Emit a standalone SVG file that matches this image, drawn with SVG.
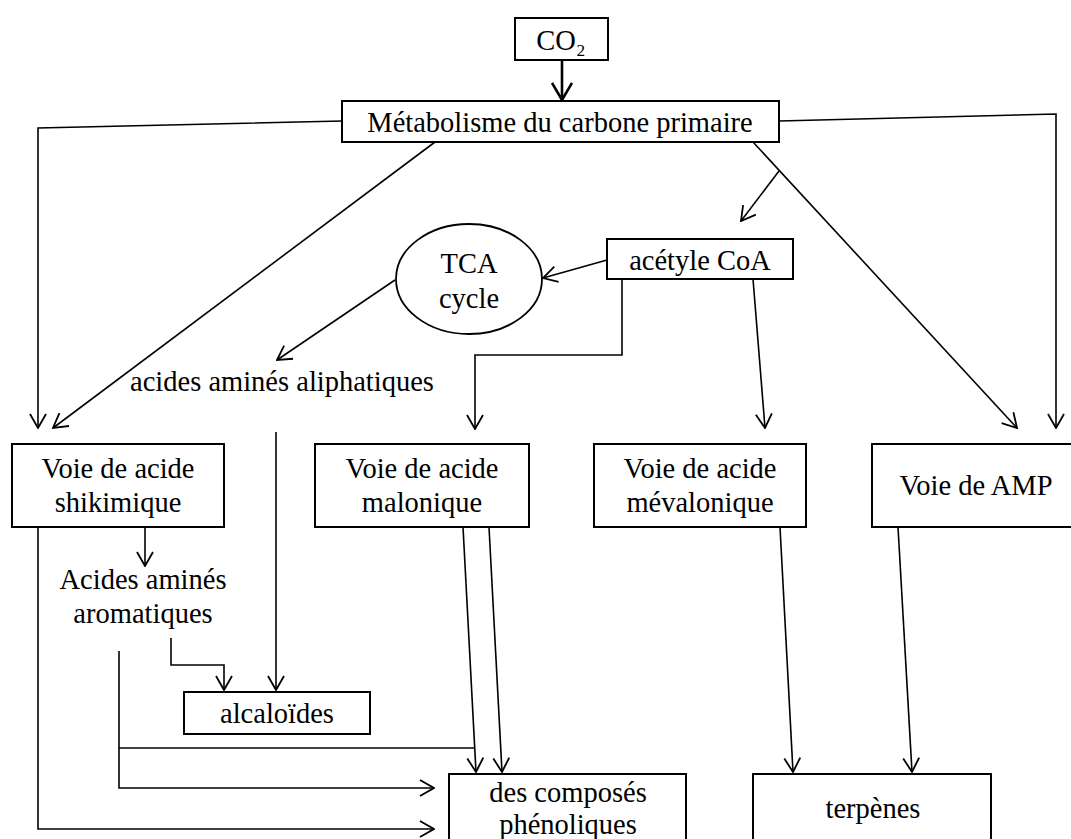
<svg xmlns="http://www.w3.org/2000/svg" width="1071" height="839" viewBox="0 0 1071 839">
<style>
.box{fill:#fff;stroke:#000;stroke-width:2}
.t{font-family:'Liberation Serif','Times New Roman','DejaVu Serif',serif;font-size:28.5px;fill:#000;text-anchor:middle}
.c{fill:none;stroke:#000;stroke-width:1.6}
.a{marker-end:url(#arr)}
</style>
<defs>
<marker id="arr" viewBox="0 0 16 18" refX="15" refY="9" markerWidth="16" markerHeight="18" orient="auto" markerUnits="userSpaceOnUse">
<path d="M1,1 L15,9 L1,17" fill="none" stroke="#000" stroke-width="1.8"/>
</marker>
<marker id="arrB" viewBox="0 0 20 22" refX="18" refY="11" markerWidth="20" markerHeight="22" orient="auto" markerUnits="userSpaceOnUse">
<path d="M1,1 L18,11 L1,21" fill="none" stroke="#000" stroke-width="2.6"/>
</marker>
</defs>
<rect width="1071" height="839" fill="#fff"/>
<g id="connectors">
<line x1="562" y1="60" x2="562" y2="100" stroke="#000" stroke-width="2.6" marker-end="url(#arrB)"/>
<polyline class="c a" points="342,121 38,128 38,428"/>
<line class="c a" x1="435" y1="142" x2="53" y2="428"/>
<polyline class="c a" points="779,121 1056,114 1056,428"/>
<line class="c a" x1="753" y1="142" x2="1017" y2="428"/>
<line class="c a" x1="779" y1="171" x2="741" y2="221"/>
<line class="c a" x1="607" y1="260" x2="543" y2="278"/>
<line class="c a" x1="395" y1="280" x2="277" y2="360"/>
<polyline class="c a" points="622,279 622,355 475,355 475,429"/>
<line class="c a" x1="753" y1="279" x2="765" y2="428"/>
<line class="c a" x1="145" y1="527" x2="145" y2="566"/>
<polyline class="c a" points="171,638 171,665 224,665 224,690"/>
<line class="c a" x1="276" y1="432" x2="276" y2="690"/>
<polyline class="c a" points="38,527 38,829 434,829"/>
<polyline class="c a" points="119,651 119,788 434,788"/>
<line class="c" x1="119" y1="748" x2="474" y2="748"/>
<line class="c a" x1="463" y1="527" x2="476" y2="772"/>
<line class="c a" x1="489" y1="527" x2="502" y2="772"/>
<line class="c a" x1="780" y1="527" x2="793" y2="772"/>
<line class="c a" x1="898" y1="527" x2="912" y2="772"/>
</g>
<g id="co2"><rect class="box" x="515" y="18" width="93" height="42" stroke-width="2.5"/><text class="t" x="561" y="50">CO₂</text></g>
<g id="metabolisme"><rect class="box" x="342" y="101" width="437" height="41"/><text class="t" x="560" y="132">Métabolisme du carbone primaire</text></g>
<g id="acetyl"><rect class="box" x="607" y="239" width="186" height="40"/><text class="t" x="700" y="270">acétyle CoA</text></g>
<g id="tca"><ellipse cx="469" cy="279" rx="73" ry="55" fill="#fff" stroke="#000" stroke-width="1.8"/><text class="t" x="469" y="273">TCA</text><text class="t" x="469" y="308">cycle</text></g>
<g id="aliphatiques"><text class="t" x="282" y="391">acides aminés aliphatiques</text></g>
<g id="shikimique"><rect class="box" x="12" y="444" width="212" height="83"/><text class="t" x="118" y="478">Voie de acide</text><text class="t" x="118" y="512">shikimique</text></g>
<g id="malonique"><rect class="box" x="315" y="444" width="214" height="83"/><text class="t" x="422" y="478">Voie de acide</text><text class="t" x="422" y="512">malonique</text></g>
<g id="mevalonique"><rect class="box" x="594" y="444" width="212" height="83"/><text class="t" x="700" y="478">Voie de acide</text><text class="t" x="700" y="512">mévalonique</text></g>
<g id="amp"><rect class="box" x="872" y="444" width="210" height="83"/><text class="t" x="976" y="495">Voie de AMP</text></g>
<g id="aromatiques"><text class="t" x="143" y="589">Acides aminés</text><text class="t" x="143" y="623">aromatiques</text></g>
<g id="alcaloides"><rect class="box" x="184" y="692" width="186" height="42"/><text class="t" x="277" y="723">alcaloïdes</text></g>
<g id="phenoliques"><rect class="box" x="449" y="774" width="237" height="80"/><text class="t" x="568" y="802">des composés</text><text class="t" x="568" y="834">phénoliques</text></g>
<g id="terpenes"><rect class="box" x="753" y="774" width="238" height="80"/><text class="t" x="873" y="818">terpènes</text></g>
</svg>
